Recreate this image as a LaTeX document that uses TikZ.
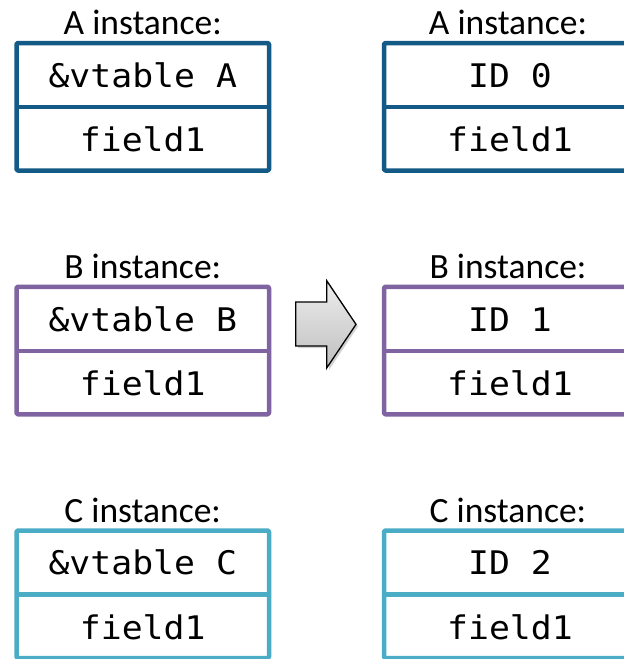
\documentclass[tikz,border=0pt]{standalone}
\usepackage{fontspec}
\setmainfont{Carlito}
\newfontfamily\codefont[FakeStretch=1.07]{DejaVu Sans Mono}
\definecolor{colA}{HTML}{145A86}
\definecolor{colB}{HTML}{8064A2}
\definecolor{colC}{HTML}{4BACC6}
\tikzset{
  rec/.style={line width=4.5pt, line join=round, rounded corners=1.2pt},
  sep/.style={line width=4.5pt},
  lbl/.style={anchor=base, font=\fontsize{35.5}{35.5}\selectfont, inner sep=0pt},
  code/.style={anchor=base, font=\codefont\fontsize{32.5}{32.5}\selectfont, inner sep=0pt},
}
\begin{document}
\begin{tikzpicture}[x=1pt,y=-1pt]
\useasboundingbox (0,0) rectangle (624,659);
\clip (0,0) rectangle (624,659);
% column data: left x0=16.5, right x0=384, width 252.5
\foreach \nm/\col/\top/\letter/\id in {A/colA/43/A/0, B/colB/286.75/B/1, C/colC/530.5/C/2}{
  % left box
  \draw[rec, draw=\col] (16.5,\top) rectangle (269,\top+127.5);
  \draw[sep, draw=\col] (16.5,\top+64) -- (269,\top+64);
  \node[lbl] (L\nm lbl) at (142.75,\top-8.5) {\letter\ instance:};
  \node[code] (L\nm top) at (142.75,\top+44.3) {\&vtable \letter};
  \node[code] (L\nm bot) at (142.75,\top+108.7) {field1};
  % right box
  \draw[rec, draw=\col] (384,\top) rectangle (636.5,\top+127.5);
  \draw[sep, draw=\col] (384,\top+64) -- (636.5,\top+64);
  \node[lbl] (R\nm lbl) at (508,\top-8.5) {\letter\ instance:};
  \node[code] (R\nm top) at (510,\top+44.3) {ID \id};
  \node[code] (R\nm bot) at (510,\top+108.7) {field1};
}
% block arrow
\fill[black!35, opacity=0.5] (298,304) -- (329,304) -- (329,283) -- (358,326.5) -- (329,370) -- (329,348) -- (298,348) -- cycle;
\draw[line width=1.3pt, line join=miter, top color=white!93!black, bottom color=black!25]
  (295.7,302) -- (326.7,302) -- (326.7,280.7) -- (356,324.4) -- (326.7,368) -- (326.7,346) -- (295.7,346) -- cycle;
\end{tikzpicture}
\end{document}
